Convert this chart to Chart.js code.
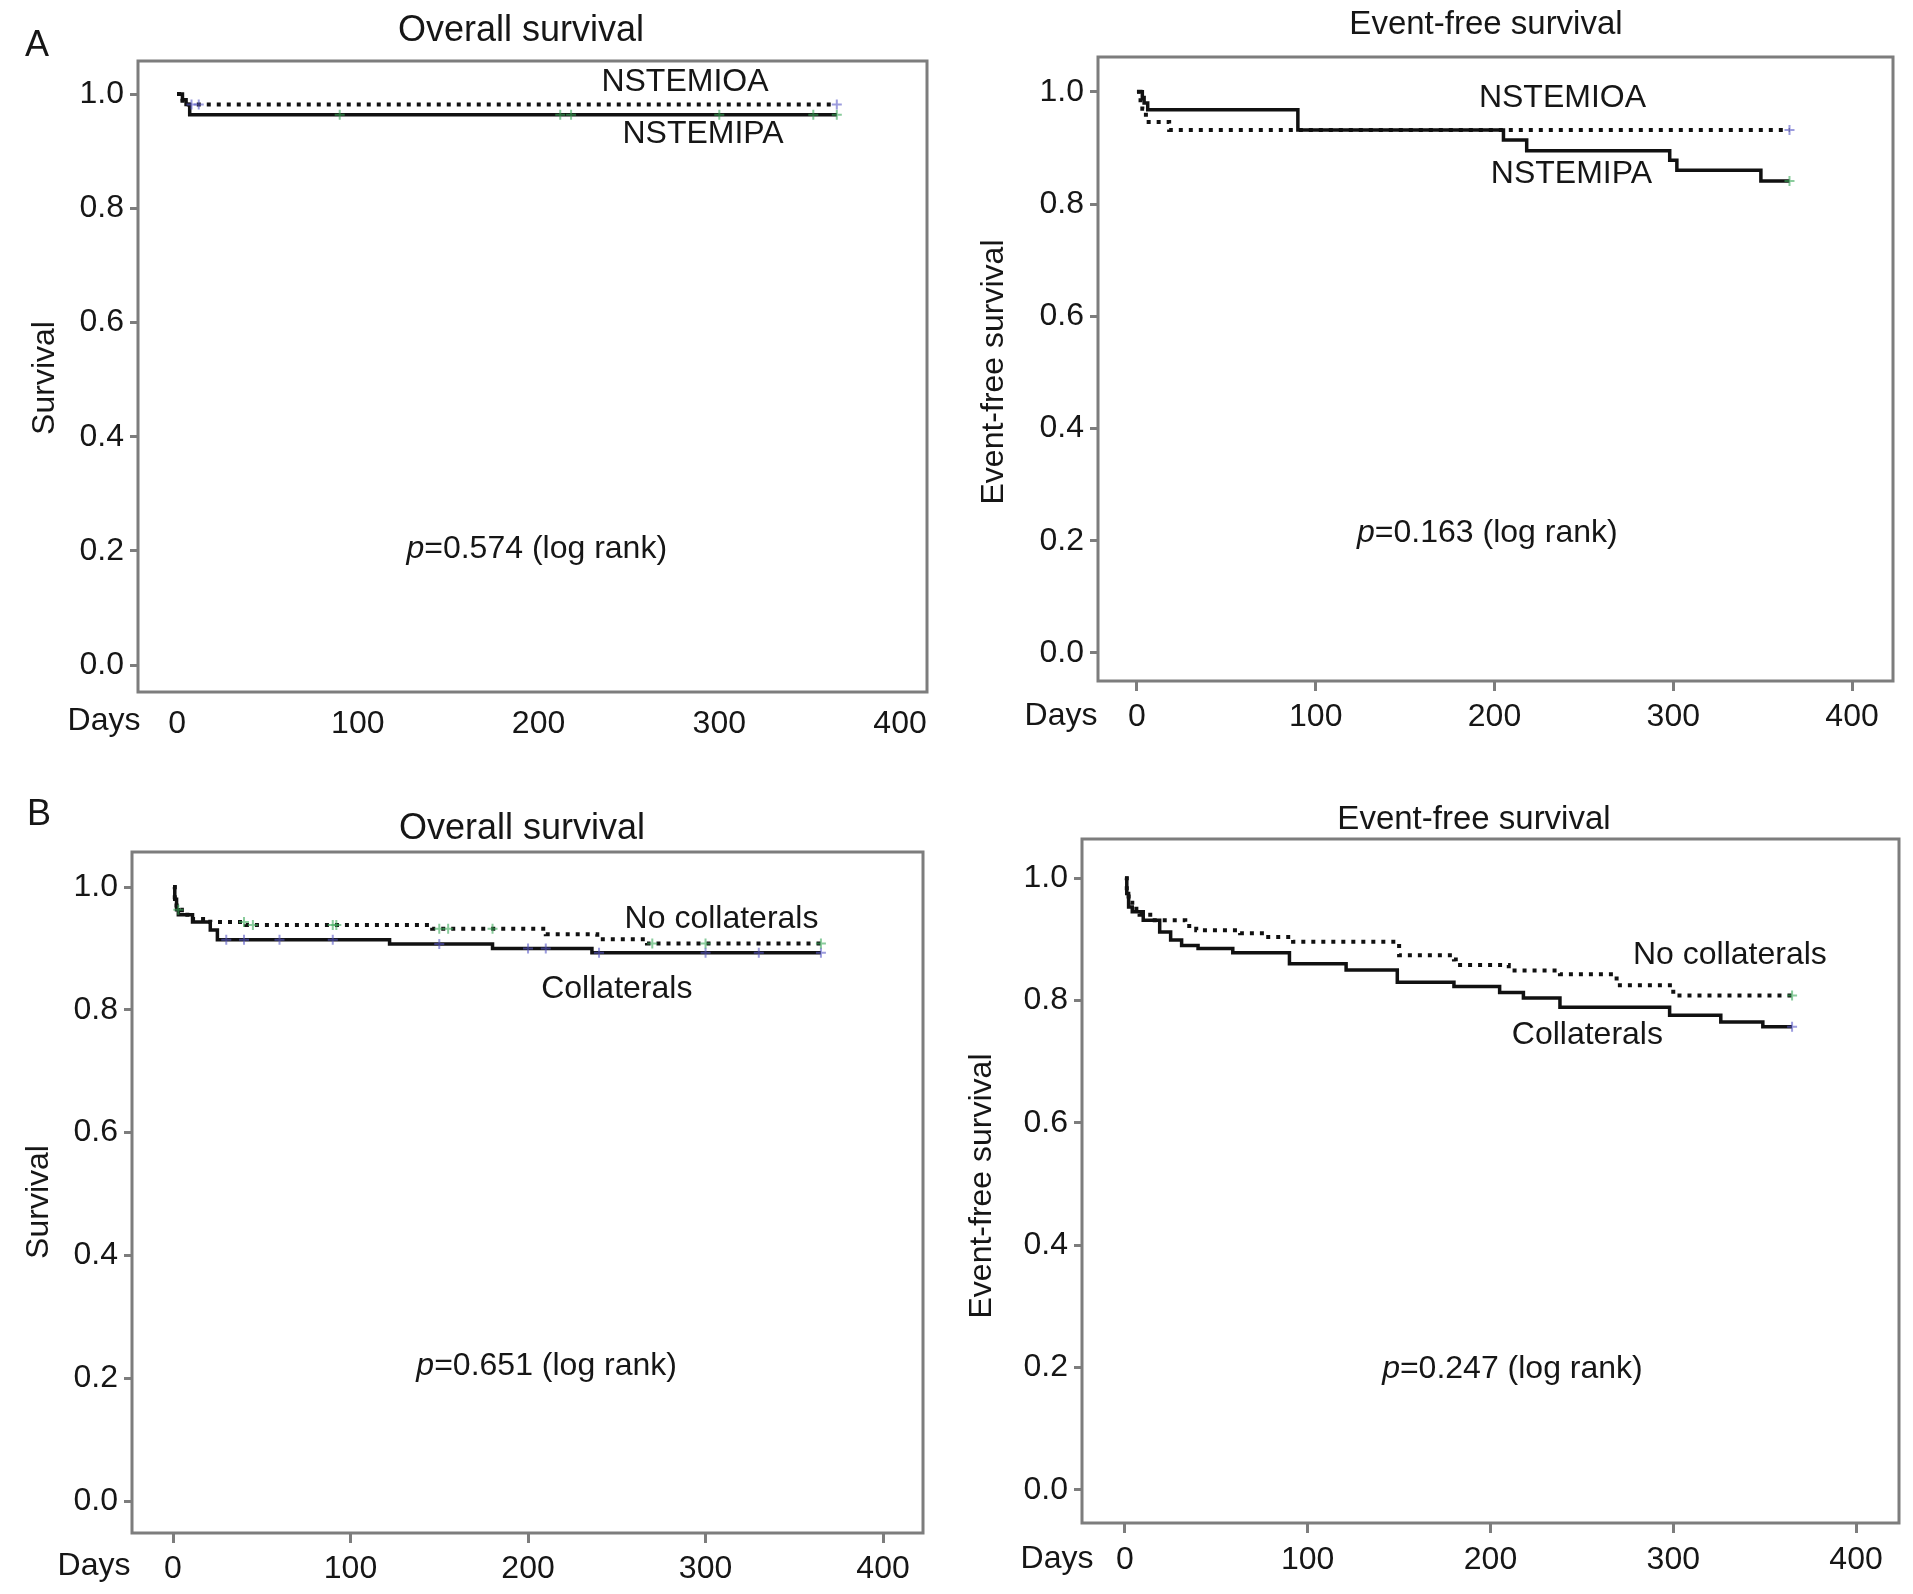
<!DOCTYPE html>
<html>
<head>
<meta charset="utf-8">
<script src="https://cdn.jsdelivr.net/npm/chart.js@4.4.1/dist/chart.umd.min.js"></script>
<style>
  body { margin: 0; background: #fff; width: 1913px; height: 1594px; position: relative; overflow: hidden; }
  canvas { position: absolute; }
</style>
</head>
<body>
<canvas id="osA"></canvas>
<canvas id="efsA"></canvas>
<canvas id="osB"></canvas>
<canvas id="efsB"></canvas>
<script>
// AXES
const xTicks = [0, 100, 200, 300, 400];
const yTicks = [0, 0.2, 0.4, 0.6, 0.8, 1.0];

// A - overall survival (days, survival)
const osA_oaDays = [0, 3, 365];
const osA_oaSurv = [1.0, 0.982, 0.982];
const osA_paDays = [0, 3, 5, 7, 365];
const osA_paSurv = [1.0, 0.99, 0.982, 0.964, 0.964];
const osA_oaCensor = [8, 12, 365];
const osA_paCensor = [90, 212, 218, 300, 352, 365];

// A - event-free survival
const efsA_oaDays = [0, 2, 3, 5, 18, 365];
const efsA_oaSurv = [1.0, 0.985, 0.97, 0.946, 0.932, 0.932];
const efsA_paDays = [0, 3, 4, 6, 90, 205, 218, 298, 302, 349, 365];
const efsA_paSurv = [1.0, 0.99, 0.98, 0.968, 0.932, 0.914, 0.895, 0.878, 0.86, 0.841, 0.841];
const efsA_oaCensor = [365];
const efsA_paCensor = [365];

// B - overall survival
const osB_noDays = [0, 1, 2, 5, 10, 21, 41, 146, 210, 239, 267, 365];
const osB_noSurv = [1.0, 0.98, 0.963, 0.955, 0.948, 0.943, 0.938, 0.932, 0.923, 0.915, 0.908, 0.908];
const osB_colDays = [0, 1, 2, 3, 11, 21, 25, 122, 180, 236, 365];
const osB_colSurv = [1.0, 0.98, 0.963, 0.955, 0.943, 0.93, 0.914, 0.907, 0.9, 0.893, 0.893];
const osB_noCensor = [3, 40, 45, 90, 92, 150, 155, 180, 270, 300, 365];
const osB_colCensor = [30, 40, 60, 90, 150, 200, 210, 240, 300, 330, 365];

// B - event-free survival
const efsB_noDays = [0, 1, 2, 4, 8, 15, 33, 39, 63, 77, 92, 150, 180, 181, 210, 238, 269, 300, 365];
const efsB_noSurv = [1.0, 0.975, 0.96, 0.95, 0.94, 0.931, 0.922, 0.915, 0.91, 0.904, 0.896, 0.874, 0.867, 0.858, 0.849, 0.843, 0.825, 0.808, 0.808];
const efsB_colDays = [0, 1, 2, 4, 10, 19, 25, 31, 40, 59, 90, 121, 149, 180, 205, 218, 238, 298, 326, 349, 365];
const efsB_colSurv = [1.0, 0.975, 0.953, 0.945, 0.931, 0.912, 0.899, 0.89, 0.885, 0.878, 0.86, 0.85, 0.83, 0.823, 0.813, 0.804, 0.789, 0.776, 0.765, 0.757, 0.757];
const efsB_noCensor = [365];
const efsB_colCensor = [365];

const FONT = "'Liberation Sans', Arial, sans-serif";
const INK = "#161616";
const GREEN = "rgba(60,170,90,0.6)";
const BLUE = "rgba(90,90,200,0.6)";

// HELPERS
function pts(days, surv) {
  return days.map((d, i) => ({ x: d, y: surv[i] }));
}

function levelAt(days, surv, t) {
  let v = surv[0];
  for (let i = 0; i < days.length; i++) if (days[i] <= t) v = surv[i];
  return v;
}

function censorPts(days, surv, marks) {
  return marks.map(t => ({ x: t, y: levelAt(days, surv, t) }));
}

function curve(days, surv, dotted) {
  return {
    data: pts(days, surv),
    stepped: "before",
    borderColor: "#111",
    borderWidth: dotted ? 4 : 3.5,
    borderDash: dotted ? [4, 6] : [],
    pointRadius: 0,
    fill: false,
    order: 2
  };
}

function censor(days, surv, marks, color) {
  return {
    data: censorPts(days, surv, marks),
    showLine: false,
    pointStyle: "cross",
    pointRadius: 5,
    borderColor: color,
    borderWidth: 2,
    order: 1
  };
}

// PANEL TEXT PLUGIN
const panelText = {
  id: "panelText",
  afterDraw(chart) {
    const o = chart.options.plugins.panelText;
    const ctx = chart.ctx;
    const a = chart.chartArea;
    const sx = chart.scales.x, sy = chart.scales.y;
    ctx.save();
    // frame
    ctx.strokeStyle = "#7d7d7d";
    ctx.lineWidth = 3;
    ctx.strokeRect(a.left, a.top, a.right - a.left, a.bottom - a.top);

    ctx.fillStyle = INK;
    ctx.textBaseline = "middle";
    ctx.textAlign = "center";

    // title
    ctx.font = o.titleSize + "px " + FONT;
    ctx.fillText(o.title, o.titlePos[0] - o.left, o.titlePos[1] - o.top);

    // panel letter
    if (o.letter) {
      ctx.font = "36px " + FONT;
      ctx.fillText(o.letter, o.letterPos[0] - o.left, o.letterPos[1] - o.top);
    }

    // Days
    ctx.font = "32px " + FONT;
    ctx.fillText("Days", o.daysPos[0] - o.left, o.daysPos[1] - o.top);

    // y title
    ctx.save();
    ctx.translate(o.yTitlePos[0] - o.left, o.yTitlePos[1] - o.top);
    ctx.rotate(-Math.PI / 2);
    ctx.fillText(o.yTitle, 0, 0);
    ctx.restore();

    // curve labels
    o.labels.forEach(l => {
      ctx.fillText(l.text, sx.getPixelForValue(l.x), sy.getPixelForValue(l.y));
    });

    // p value
    const px = sx.getPixelForValue(o.p.x), py = sy.getPixelForValue(o.p.y);
    ctx.font = "italic 32px " + FONT;
    const w1 = ctx.measureText("p").width;
    ctx.font = "32px " + FONT;
    const w2 = ctx.measureText(o.p.text).width;
    let x0 = px - (w1 + w2) / 2;
    ctx.textAlign = "left";
    ctx.font = "italic 32px " + FONT;
    ctx.fillText("p", x0, py);
    ctx.font = "32px " + FONT;
    ctx.fillText(o.p.text, x0 + w1, py);
    ctx.restore();
  }
};

function makePanel(p) {
  const cv = document.getElementById(p.id);
  cv.width = p.w; cv.height = p.h;
  cv.style.left = p.left + "px"; cv.style.top = p.top + "px";
  cv.style.width = p.w + "px"; cv.style.height = p.h + "px";
  const [L, T, R, B] = p.frame;

  return new Chart(cv, {
    type: "line",
    data: { datasets: p.datasets },
    options: {
      responsive: false,
      animation: false,
      devicePixelRatio: 1,
      layout: { padding: { left: 0, top: T - p.top, right: p.left + p.w - R, bottom: 0 } },
      plugins: {
        legend: { display: false },
        tooltip: { enabled: false },
        panelText: Object.assign({ left: p.left, top: p.top }, p.text)
      },
      scales: {
        x: {
          type: "linear",
          min: p.xr[0], max: p.xr[1],
          afterFit: s => { s.height = p.top + p.h - B; },
          afterBuildTicks: s => { s.ticks = xTicks.map(v => ({ value: v })); },
          border: { display: false },
          grid: {
            display: p.xTickMarks, drawOnChartArea: false, drawTicks: true,
            tickLength: 10, tickWidth: 3, tickColor: "#7d7d7d"
          },
          ticks: {
            padding: p.xPad, color: INK, font: { family: FONT, size: 32 },
            maxRotation: 0, autoSkip: false,
            callback: v => String(v)
          }
        },
        y: {
          type: "linear",
          min: p.yr[0], max: p.yr[1],
          afterFit: s => { s.width = L - p.left; },
          afterBuildTicks: s => { s.ticks = yTicks.map(v => ({ value: v })); },
          border: { display: false },
          grid: {
            display: true, drawOnChartArea: false, drawTicks: true,
            tickLength: 8, tickWidth: 3, tickColor: "#7d7d7d"
          },
          ticks: {
            padding: 6, color: INK, font: { family: FONT, size: 32 },
            callback: v => v.toFixed(1)
          }
        }
      }
    },
    plugins: [panelText]
  });
}

// INIT
makePanel({
  id: "osA", left: 0, top: 0, w: 960, h: 800,
  frame: [138, 61, 927, 692], xr: [-21.6, 414.9], yr: [-0.047, 1.058],
  xTickMarks: false, xPad: 3,
  datasets: [
    curve(osA_oaDays, osA_oaSurv, true),
    curve(osA_paDays, osA_paSurv, false),
    censor(osA_oaDays, osA_oaSurv, osA_oaCensor, BLUE),
    censor(osA_paDays, osA_paSurv, osA_paCensor, GREEN)
  ],
  text: {
    title: "Overall survival", titleSize: 36, titlePos: [521, 31],
    letter: "A", letterPos: [37, 46],
    daysPos: [104, 721], yTitle: "Survival", yTitlePos: [45, 378],
    labels: [{ text: "NSTEMIOA", x: 281, y: 1.021 }, { text: "NSTEMIPA", x: 291, y: 0.93 }],
    p: { text: "=0.574 (log rank)", x: 199, y: 0.203 }
  }
});

makePanel({
  id: "efsA", left: 960, top: 0, w: 953, h: 790,
  frame: [1098, 57, 1893, 681], xr: [-21.8, 422.9], yr: [-0.05, 1.062],
  xTickMarks: true, xPad: 7,
  datasets: [
    curve(efsA_oaDays, efsA_oaSurv, true),
    curve(efsA_paDays, efsA_paSurv, false),
    censor(efsA_oaDays, efsA_oaSurv, efsA_oaCensor, BLUE),
    censor(efsA_paDays, efsA_paSurv, efsA_paCensor, GREEN)
  ],
  text: {
    title: "Event-free survival", titleSize: 33, titlePos: [1486, 25],
    daysPos: [1061, 716], yTitle: "Event-free survival", yTitlePos: [994, 372],
    labels: [{ text: "NSTEMIOA", x: 238, y: 0.989 }, { text: "NSTEMIPA", x: 243, y: 0.853 }],
    p: { text: "=0.163 (log rank)", x: 196, y: 0.214 }
  }
});

makePanel({
  id: "osB", left: 0, top: 790, w: 960, h: 804,
  frame: [132, 852, 923, 1533], xr: [-23.1, 422.5], yr: [-0.052, 1.057],
  xTickMarks: true, xPad: 7,
  datasets: [
    curve(osB_noDays, osB_noSurv, true),
    curve(osB_colDays, osB_colSurv, false),
    censor(osB_noDays, osB_noSurv, osB_noCensor, GREEN),
    censor(osB_colDays, osB_colSurv, osB_colCensor, BLUE)
  ],
  text: {
    title: "Overall survival", titleSize: 36, titlePos: [522, 829],
    letter: "B", letterPos: [39, 815],
    daysPos: [94, 1566], yTitle: "Survival", yTitlePos: [39, 1202],
    labels: [{ text: "No collaterals", x: 309, y: 0.948 }, { text: "Collaterals", x: 250, y: 0.834 }],
    p: { text: "=0.651 (log rank)", x: 210.5, y: 0.22 }
  }
});

makePanel({
  id: "efsB", left: 960, top: 790, w: 953, h: 804,
  frame: [1082, 839, 1899, 1523], xr: [-23.5, 423.5], yr: [-0.054, 1.064],
  xTickMarks: true, xPad: 8,
  datasets: [
    curve(efsB_noDays, efsB_noSurv, true),
    curve(efsB_colDays, efsB_colSurv, false),
    censor(efsB_noDays, efsB_noSurv, efsB_noCensor, GREEN),
    censor(efsB_colDays, efsB_colSurv, efsB_colCensor, BLUE)
  ],
  text: {
    title: "Event-free survival", titleSize: 33, titlePos: [1474, 820],
    daysPos: [1057, 1559], yTitle: "Event-free survival", yTitlePos: [982, 1186],
    labels: [{ text: "No collaterals", x: 331, y: 0.874 }, { text: "Collaterals", x: 253, y: 0.744 }],
    p: { text: "=0.247 (log rank)", x: 212, y: 0.198 }
  }
});
</script>
</body>
</html>
